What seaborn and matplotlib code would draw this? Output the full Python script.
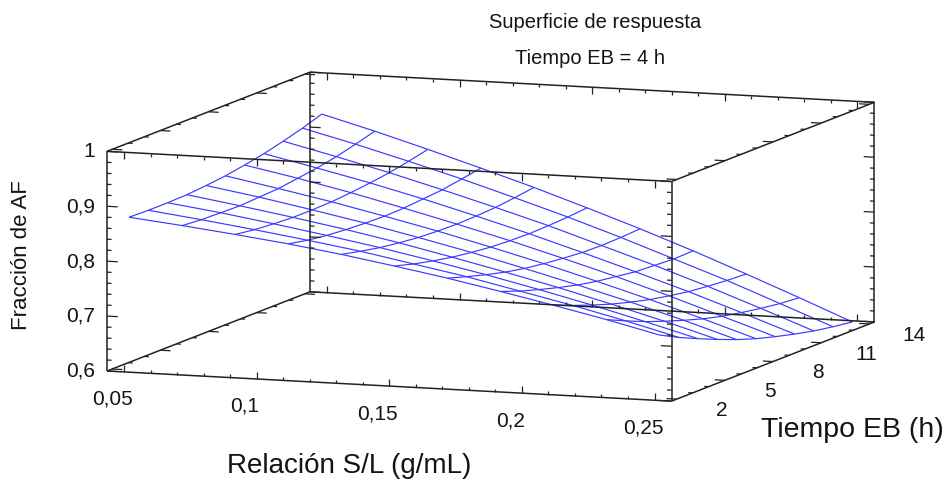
import numpy as np
import matplotlib
matplotlib.use("Agg")
import matplotlib.pyplot as plt
import seaborn as sns
from mpl_toolkits.mplot3d import proj3d
from mpl_toolkits.mplot3d.art3d import Line3DCollection

# Response surface: fraction of AF over S/L ratio and extraction time
sl = [0.05, 0.07, 0.09, 0.11, 0.13, 0.15, 0.17, 0.19, 0.21, 0.23, 0.25]
tiempo = [2.0, 3.2, 4.4, 5.6, 6.8, 8.0, 9.2, 10.4, 11.6, 12.8, 14.0]
# rows follow tiempo, columns follow sl
fraccion_af = [
    [0.878, 0.868, 0.857, 0.845, 0.831, 0.815, 0.798, 0.779, 0.759, 0.738, 0.715],
    [0.877, 0.865, 0.852, 0.838, 0.823, 0.805, 0.787, 0.766, 0.745, 0.722, 0.697],
    [0.877, 0.864, 0.849, 0.833, 0.816, 0.797, 0.777, 0.755, 0.732, 0.707, 0.681],
    [0.878, 0.863, 0.847, 0.830, 0.811, 0.790, 0.768, 0.745, 0.720, 0.694, 0.666],
    [0.881, 0.865, 0.847, 0.828, 0.807, 0.785, 0.761, 0.736, 0.710, 0.682, 0.652],
    [0.885, 0.867, 0.848, 0.827, 0.805, 0.781, 0.756, 0.729, 0.701, 0.671, 0.640],
    [0.891, 0.872, 0.851, 0.828, 0.804, 0.779, 0.752, 0.724, 0.694, 0.662, 0.630],
    [0.898, 0.877, 0.855, 0.831, 0.805, 0.778, 0.749, 0.719, 0.688, 0.655, 0.621],
    [0.907, 0.884, 0.860, 0.834, 0.807, 0.779, 0.748, 0.717, 0.684, 0.649, 0.613],
    [0.917, 0.893, 0.867, 0.840, 0.811, 0.781, 0.749, 0.715, 0.681, 0.644, 0.607],
    [0.929, 0.903, 0.875, 0.846, 0.816, 0.784, 0.751, 0.716, 0.679, 0.641, 0.602],
]

x_ticks = [0.05, 0.10, 0.15, 0.20, 0.25]
x_ticklabels = ["0,05", "0,1", "0,15", "0,2", "0,25"]
y_ticks = [2, 5, 8, 11, 14]
y_ticklabels = ["2", "5", "8", "11", "14"]
z_ticks = [0.6, 0.7, 0.8, 0.9, 1.0]
z_ticklabels = ["0,6", "0,7", "0,8", "0,9", "1"]

title_lines = ["Superficie de respuesta", "Tiempo EB = 4 h"]
xlabel = "Relación S/L (g/mL)"
ylabel = "Tiempo EB (h)"
zlabel = "Fracción de AF"

sns.set_theme(style="white")
plt.rcParams["font.family"] = ["Liberation Sans", "DejaVu Sans"]

W_PX, H_PX = 950, 485
fig = plt.figure(figsize=(W_PX / 100, H_PX / 100), dpi=100)
fig.patch.set_facecolor("white")

S0 = 400
ax = fig.add_axes([0.2, 0.1, S0 / W_PX, S0 / H_PX], projection="3d",
                  proj_type="ortho")
ax.view_init(elev=8.3, azim=-69.7)
ax.set_box_aspect((602, 585, 222))

# axis ranges with a little padding around the data ticks
xlo, xhi = 0.0436, 0.2564
ylo, yhi = 1.68, 14.32
zlo, zhi = 0.6, 1.0
ax.set_xlim(xlo, xhi)
ax.set_ylim(ylo, yhi)
ax.set_zlim(zlo, zhi)
ax.set_axis_off()
ax.patch.set_alpha(0)

# wireframe surface
SL, T = np.meshgrid(np.array(sl), np.array(tiempo))
Z = np.array(fraccion_af)
ax.plot_wireframe(SL, T, Z, rstride=1, cstride=1, color="#3a3aff",
                  linewidth=0.85)

# bounding box with tick marks on every edge
xr, yr, zr = xhi - xlo, yhi - ylo, zhi - zlo
edges = []
for y in (ylo, yhi):
    for z in (zlo, zhi):
        edges.append([(xlo, y, z), (xhi, y, z)])
for x in (xlo, xhi):
    for z in (zlo, zhi):
        edges.append([(x, ylo, z), (x, yhi, z)])
for x in (xlo, xhi):
    for y in (ylo, yhi):
        edges.append([(x, y, zlo), (x, y, zhi)])

ticks = []
x_minor = np.round(np.arange(0.05, 0.2501, 0.01), 3)
y_minor = np.arange(2, 15, 1)
z_minor = np.round(np.arange(0.6, 1.0001, 0.02), 3)

for y in (ylo, yhi):
    for z in (zlo, zhi):
        s = 1 if z == zlo else -1
        for xv in x_minor:
            major = any(abs(xv - m) < 1e-6 for m in x_ticks)
            L = (0.032 if major else 0.014) * zr
            ticks.append([(xv, y, z), (xv, y, z + s * L)])
for x in (xlo, xhi):
    s = 1 if x == xlo else -1
    for z in (zlo, zhi):
        for yv in y_minor:
            major = yv in y_ticks
            L = (0.018 if major else 0.008) * xr
            ticks.append([(x, yv, z), (x + s * L, yv, z)])
    for y in (ylo, yhi):
        for zv in z_minor:
            major = any(abs(zv - m) < 1e-6 for m in z_ticks)
            L = (0.019 if major else 0.008) * xr
            ticks.append([(x, y, zv), (x + s * L, y, zv)])

ax.add_collection3d(Line3DCollection(edges, colors="#222222", linewidths=1.1))
ax.add_collection3d(Line3DCollection(ticks, colors="#222222", linewidths=0.9))

# place the box so its front-bottom-left and back-top-right corners
# land at the intended pixel positions
fig.canvas.draw()


def to_disp(x, y, z):
    xs, ys, _ = proj3d.proj_transform(x, y, z, ax.get_proj())
    return np.array(ax.transData.transform((xs, ys)))


pos = ax.get_position()
S = pos.width * W_PX
C = np.array([(pos.x0 + pos.width / 2) * W_PX, (pos.y0 + pos.height / 2) * H_PX])
dA = to_disp(xlo, ylo, zlo)
dB = to_disp(xhi, yhi, zhi)
tA = np.array([107.0, H_PX - 372.0])
tB = np.array([874.0, H_PX - 102.0])
r = np.linalg.norm(tB - tA) / np.linalg.norm(dB - dA)
S2 = S * r
C2 = tA - r * (dA - C)
ax.set_position([(C2[0] - S2 / 2) / W_PX, (C2[1] - S2 / 2) / H_PX,
                 S2 / W_PX, S2 / H_PX])
fig.canvas.draw()

tick_fs = 15
ink = "#141414"


def label_at(x, y, z, s, **kw):
    d = to_disp(x, y, z)
    fig.text(d[0] / W_PX, d[1] / H_PX, s, fontsize=tick_fs, color=ink, **kw)


# tick labels, projected from points just outside the box edges
for v, lab in zip(x_ticks, x_ticklabels):
    label_at(v, ylo - 0.057 * yr, zlo - 0.10 * zr, lab, ha="center", va="center")
for v, lab in zip(y_ticks, y_ticklabels):
    label_at(xhi + 0.08 * xr, v, zlo - 0.036 * zr, lab, ha="center", va="center")
for v, lab in zip(z_ticks, z_ticklabels):
    label_at(xlo - 0.021 * xr, ylo, v, lab, ha="right", va="center")


def px(x, y):
    return x / W_PX, 1 - y / H_PX


fig.text(*px(595, 23), title_lines[0], ha="center", va="center",
         fontsize=14.5, color=ink)
fig.text(*px(590, 58), title_lines[1], ha="center", va="center",
         fontsize=14.5, color=ink)
fig.text(*px(22, 255), zlabel, ha="center", va="center", rotation=90,
         fontsize=16, color=ink)
fig.text(*px(349, 466), xlabel, ha="center", va="center",
         fontsize=20, color=ink)
fig.text(*px(852, 430), ylabel, ha="center", va="center",
         fontsize=20.5, color=ink)

fig.savefig("out.png", dpi=100, facecolor="white")
